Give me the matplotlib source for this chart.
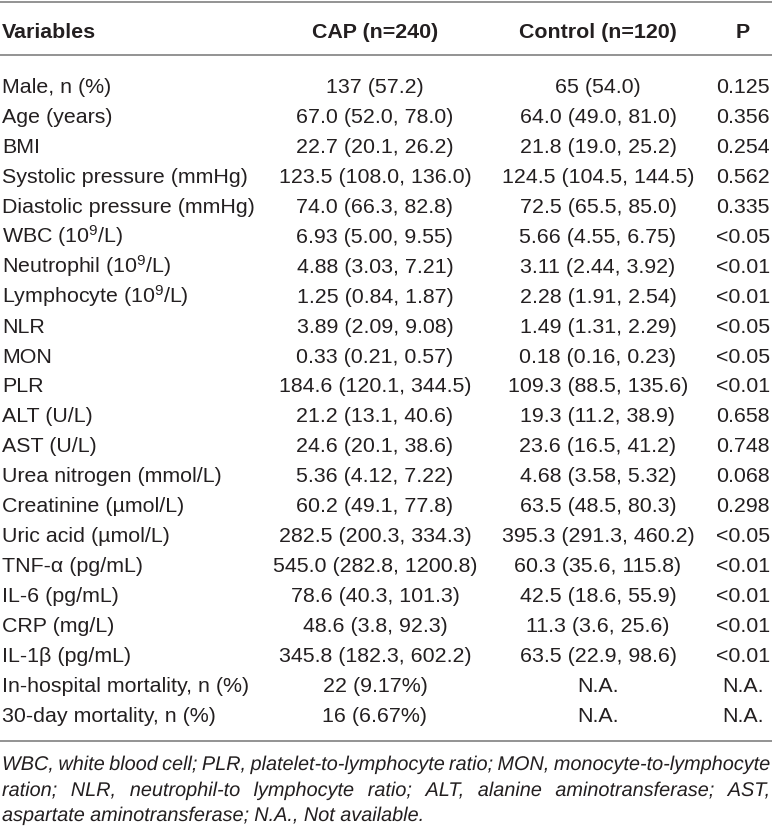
import matplotlib
matplotlib.use("Agg")
import matplotlib.pyplot as plt
from matplotlib.textpath import TextPath
from matplotlib.patches import PathPatch
from matplotlib.font_manager import FontProperties
from matplotlib.transforms import Affine2D

plt.rcParams['font.family'] = ['Liberation Sans', 'DejaVu Sans']
plt.rcParams['mathtext.fontset'] = 'custom'
plt.rcParams['mathtext.rm'] = 'Liberation Sans'
plt.rcParams['mathtext.it'] = 'Liberation Sans:italic'
plt.rcParams['mathtext.bf'] = 'Liberation Sans:bold'

headers = ["Variables", "CAP (n=240)", "Control (n=120)", "P"]

variables = [
    "Male, n (%)", "Age (years)", "BMI", "Systolic pressure (mmHg)",
    "Diastolic pressure (mmHg)", r"WBC (10$^{9}$/L)", r"Neutrophil (10$^{9}$/L)",
    r"Lymphocyte (10$^{9}$/L)", "NLR", "MON", "PLR", "ALT (U/L)", "AST (U/L)",
    "Urea nitrogen (mmol/L)", "Creatinine (µmol/L)", "Uric acid (µmol/L)",
    "TNF-α (pg/mL)", "IL-6 (pg/mL)", "CRP (mg/L)", "IL-1β (pg/mL)",
    "In-hospital mortality, n (%)", "30-day mortality, n (%)",
]
cap = [
    "137 (57.2)", "67.0 (52.0, 78.0)", "22.7 (20.1, 26.2)", "123.5 (108.0, 136.0)",
    "74.0 (66.3, 82.8)", "6.93 (5.00, 9.55)", "4.88 (3.03, 7.21)", "1.25 (0.84, 1.87)",
    "3.89 (2.09, 9.08)", "0.33 (0.21, 0.57)", "184.6 (120.1, 344.5)", "21.2 (13.1, 40.6)",
    "24.6 (20.1, 38.6)", "5.36 (4.12, 7.22)", "60.2 (49.1, 77.8)", "282.5 (200.3, 334.3)",
    "545.0 (282.8, 1200.8)", "78.6 (40.3, 101.3)", "48.6 (3.8, 92.3)", "345.8 (182.3, 602.2)",
    "22 (9.17%)", "16 (6.67%)",
]
control = [
    "65 (54.0)", "64.0 (49.0, 81.0)", "21.8 (19.0, 25.2)", "124.5 (104.5, 144.5)",
    "72.5 (65.5, 85.0)", "5.66 (4.55, 6.75)", "3.11 (2.44, 3.92)", "2.28 (1.91, 2.54)",
    "1.49 (1.31, 2.29)", "0.18 (0.16, 0.23)", "109.3 (88.5, 135.6)", "19.3 (11.2, 38.9)",
    "23.6 (16.5, 41.2)", "4.68 (3.58, 5.32)", "63.5 (48.5, 80.3)", "395.3 (291.3, 460.2)",
    "60.3 (35.6, 115.8)", "42.5 (18.6, 55.9)", "11.3 (3.6, 25.6)", "63.5 (22.9, 98.6)",
    "N.A.", "N.A.",
]
pvals = [
    "0.125", "0.356", "0.254", "0.562", "0.335", "<0.05", "<0.01", "<0.01", "<0.05",
    "<0.05", "<0.01", "0.658", "0.748", "0.068", "0.298", "<0.05", "<0.01", "<0.01",
    "<0.01", "<0.01", "N.A.", "N.A.",
]
footnote_lines = [
    "WBC, white blood cell; PLR, platelet-to-lymphocyte ratio; MON, monocyte-to-lymphocyte",
    "ration; NLR, neutrophil-to lymphocyte ratio; ALT, alanine aminotransferase; AST,",
    "aspartate aminotransferase; N.A., Not available.",
]

W, H = 772, 831
fig = plt.figure(figsize=(W / 100, H / 100), dpi=100)
ax = fig.add_axes([0, 0, 1, 1])
ax.set_xlim(0, W)
ax.set_ylim(H, 0)
ax.axis('off')

TXT = '#231f20'
LINE = '#8a8a8a'
FS = 15.4
FFS = 14.3

col_x = [2, 375, 598, 743]
col_ha = ['left', 'center', 'center', 'center']

# rules
for yy in (1.5, 55, 741):
    ax.plot([0, W], [yy, yy], color=LINE, lw=1.3, solid_capstyle='butt')

# header
for x, ha, h in zip(col_x, col_ha, headers):
    ax.text(x, 37.5, h, ha=ha, va='baseline', fontsize=FS, fontweight='bold', color=TXT)

# rows (baseline positions)
y0, dy = 93, 29.95
for i, row in enumerate(zip(variables, cap, control, pvals)):
    y = y0 + i * dy
    for x, ha, s in zip(col_x, col_ha, row):
        ax.text(x, y, s, ha=ha, va='baseline', fontsize=FS, color=TXT)

# footnote: words drawn as glyph outlines on a common baseline, first two lines justified
fp = FontProperties(family='Liberation Sans', style='italic', size=FFS)
px = FFS * 100 / 72.0
fig.canvas.draw()
renderer = fig.canvas.get_renderer()


def adv(word):
    w, _, _ = renderer.get_text_width_height_descent(word, fp, ismath=False)
    return w


def draw_word(word, x, y):
    tp = TextPath((0, 0), word, size=px, prop=fp)
    tr = Affine2D().scale(1, -1).translate(x, y)
    ax.add_patch(PathPatch(tr.transform_path(tp), facecolor=TXT, edgecolor='none', lw=0))


fy = [770, 796, 821]
left, right = 2, 770
for li, (line, y) in enumerate(zip(footnote_lines, fy)):
    words = line.split(' ')
    widths = [adv(w) for w in words]
    if li == len(footnote_lines) - 1:
        gap = adv(' ') if adv(' ') > 0 else px * 0.278
    else:
        gap = (right - left - sum(widths)) / (len(words) - 1)
    x = left
    for w, wd in zip(words, widths):
        draw_word(w, x, y)
        x += wd + gap

fig.savefig('out.png', dpi=100)
